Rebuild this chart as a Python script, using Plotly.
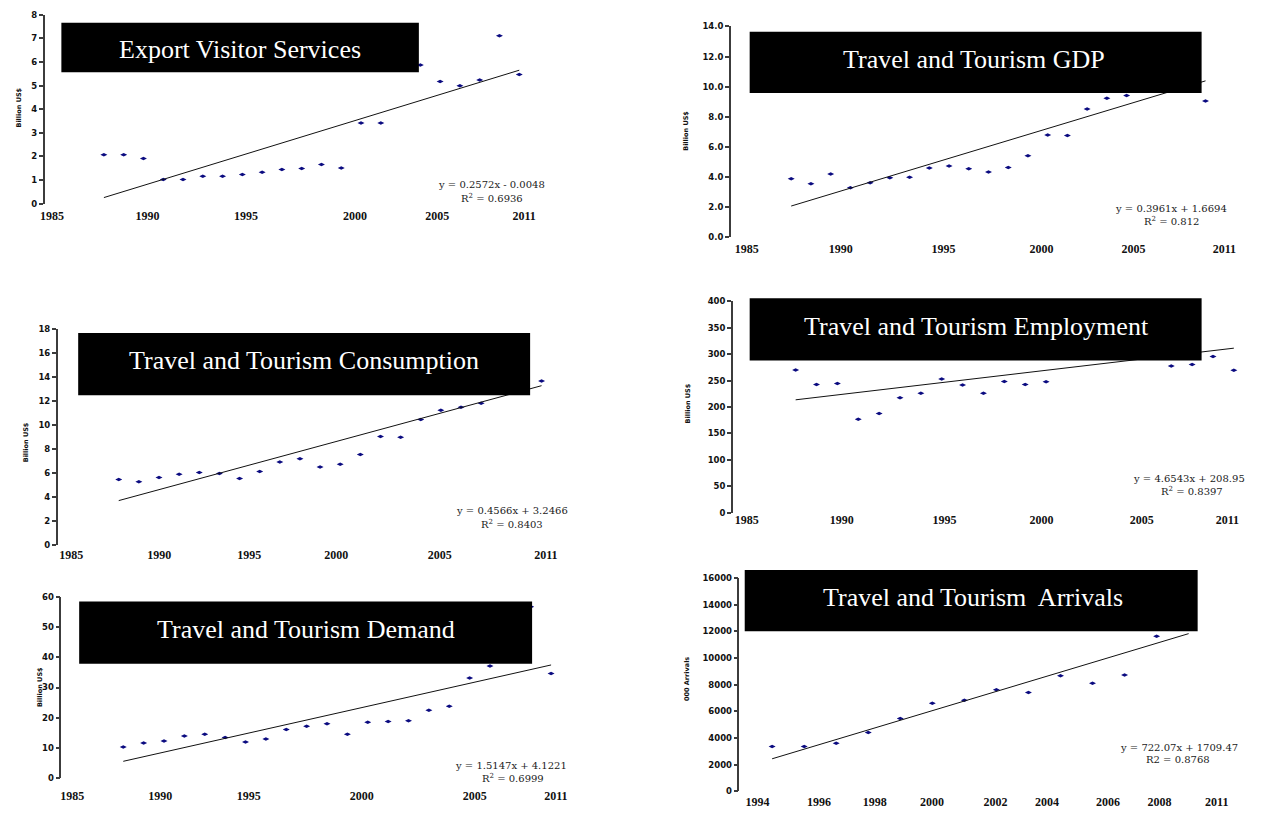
import plotly.graph_objects as go

W, H = 1265, 814

# ---------------- data ----------------
# observation number used as x by the fitted linear trends
obs22 = list(range(1, 23))
obs13 = list(range(1, 14))

export_visitor = [2.07, 2.07, 1.91, 1.02, 1.02, 1.16, 1.16, 1.23, 1.33, 1.44, 1.49,
                  1.66, 1.51, 3.42, 3.42, 6.00, 5.87, 5.17, 4.99, 5.24, 7.12, 5.47]
tt_gdp = [3.87, 3.54, 4.20, 3.28, 3.61, 3.94, 3.98, 4.59, 4.72, 4.55, 4.33,
          4.62, 5.40, 6.78, 6.76, 8.51, 9.23, 9.41, 10.3, 10.9, 11.3, 9.05]
tt_consumption = [5.47, 5.28, 5.64, 5.91, 6.05, 5.96, 5.55, 6.13, 6.92, 7.20, 6.51,
                  6.73, 7.55, 9.06, 9.00, 10.48, 11.24, 11.49, 11.82, 13.0, 13.5, 13.68]
tt_employment = [270, 242.6, 244.5, 176.7, 187.9, 217.7, 225.8, 253.2, 241.4, 225.8, 248.2,
                 242.6, 247.6, 305, 315, 330, 340, 338, 277.4, 280.6, 295.5, 269.4]
tt_demand = [10.4, 11.7, 12.3, 14.0, 14.6, 13.5, 12.0, 13.0, 16.1, 17.2, 18.0,
             14.6, 18.5, 18.8, 19.0, 22.5, 23.8, 33.1, 37.1, 42.4, 56.7, 34.6]
tt_arrivals = [3358, 3358, 3605, 4395, 5457, 6593, 6815, 7605, 7407, 8667, 8099, 8716, 11630]

# linear trend: slope, intercept, R^2
fit_export = (0.2572, -0.0048, 0.6936)
fit_gdp = (0.3961, 1.6694, 0.812)
fit_consumption = (0.4566, 3.2466, 0.8403)
fit_employment = (4.6543, 208.95, 0.8397)
fit_demand = (1.5147, 4.1221, 0.6999)
fit_arrivals = (722.07, 1709.47, 0.8768)

year_ticks = ["1985", "1990", "1995", "2000", "2005", "2011"]
arrival_ticks = ["1994", "1996", "1998", "2000", "2002", "2004", "2006", "2008", "2011"]

titles = ["Export Visitor Services", "Travel and Tourism GDP",
          "Travel and Tourism Consumption", "Travel and Tourism Employment",
          "Travel and Tourism Demand", "Travel and Tourism\u00a0 Arrivals"]
y_titles = ["Billion US$", "Billion US$", "Billion US$", "Billion US$",
            "Billion US$", "000 Arrivals"]

series = [
    (obs22, export_visitor, fit_export, year_ticks, 22),
    (obs22, tt_gdp, fit_gdp, year_ticks, 22),
    (obs22, tt_consumption, fit_consumption, year_ticks, 22),
    (obs22, tt_employment, fit_employment, year_ticks, 22),
    (obs22, tt_demand, fit_demand, year_ticks, 22),
    (obs13, tt_arrivals, fit_arrivals, arrival_ticks, 14),
]

# ---------------- layout of each panel (pixels) ----------------
panels = [
    dict(ax=40, right=555, top=10, bottom=201, p1=100, step=20.0,
         tick_px=[47.5, 144, 243.6, 354, 437, 525], lab_y=214,
         ymax=8, dtick=1, fmt="d",
         box=(57, 18, 418.5, 68), title=(238, 45),
         eq=(492, 182), r2=(492, 195), ytl=(14, 104), r2sup=True),
    dict(ax=734, right=1255, top=21.7, bottom=235, p1=795, step=19.95,
         tick_px=[750, 845, 949, 1048, 1141, 1233], lab_y=247,
         ymax=14, dtick=2, fmt=".1f",
         box=(753, 27, 1210, 89), title=(980, 55),
         eq=(1179, 206), r2=(1180, 219), ytl=(689, 127), r2sup=True),
    dict(ax=53.3, right=560, top=328.3, bottom=546.7, p1=115, step=20.36,
         tick_px=[67, 156, 247, 335, 439.5, 547], lab_y=557,
         ymax=18, dtick=2, fmt="d",
         box=(74, 332, 531, 395), title=(302, 360),
         eq=(513, 512), r2=(513, 525), ytl=(21, 443), r2sup=True),
    dict(ax=736, right=1255, top=300, bottom=514, p1=799.5, step=21.1,
         tick_px=[750, 846, 950, 1048, 1149.5, 1236], lab_y=521,
         ymax=400, dtick=50, fmt="d",
         box=(753, 297, 1210, 360), title=(982, 325),
         eq=(1197, 479), r2=(1200, 492), ytl=(691, 403), r2sup=True),
    dict(ax=57, right=560, top=599, bottom=783, p1=119.6, step=20.6,
         tick_px=[68, 157, 246.4, 360.7, 475, 557], lab_y=801,
         ymax=60, dtick=10, fmt="d",
         box=(75, 604, 533, 667), title=(304, 632),
         eq=(512, 770), r2=(514, 783), ytl=(35, 691), r2sup=True),
    dict(ax=742.7, right=1255, top=580, bottom=796, p1=775.7, step=32.4,
         tick_px=[761, 823, 879.5, 937.3, 1001.5, 1053.7, 1115.3, 1167.5, 1225.3], lab_y=807,
         ymax=16000, dtick=2000, fmt="d",
         box=(748, 572, 1206, 634), title=(979, 600),
         eq=(1187, 752), r2=(1186, 764), ytl=(689, 682), r2sup=False),
]

AXIS_COLOR = "#3c3c3c"
POINT_COLOR = "#0b0b80"


def px_x(v):
    return v / W


def px_y(v):
    return 1 - v / H


def num(v):
    return f"{v:g}"


fig = go.Figure()
shapes, annotations = [], []

for k, ((xs, ys, fit, ticks, x_end), g, title, ytitle) in enumerate(
        zip(series, panels, titles, y_titles), start=1):
    xa = "x" if k == 1 else f"x{k}"
    ya = "y" if k == 1 else f"y{k}"
    slope, icpt, r2 = fit

    fig.add_trace(go.Scatter(
        x=xs, y=ys, mode="markers", xaxis=xa, yaxis=ya, showlegend=False,
        marker=dict(symbol="diamond-wide", size=5, color=POINT_COLOR,
                    line=dict(width=0)),
        hoverinfo="skip"))
    tx = [xs[0], x_end]
    fig.add_trace(go.Scatter(
        x=tx, y=[slope * t + icpt for t in tx], mode="lines",
        xaxis=xa, yaxis=ya, showlegend=False,
        line=dict(color="#111111", width=1), hoverinfo="skip"))

    to_idx = lambda p: 1 + (p - g["p1"]) / g["step"]
    xr = [to_idx(g["ax"]), to_idx(g["right"])]
    label_offset = 9
    fig.layout[f"xaxis{'' if k == 1 else k}"] = dict(
        domain=[px_x(g["ax"]), px_x(g["right"])], range=xr,
        anchor="free", position=px_y(g["lab_y"] - label_offset),
        tickmode="array", tickvals=[to_idx(p) for p in g["tick_px"]], ticktext=ticks,
        showline=False, showgrid=False, zeroline=False, ticks="",
        tickfont=dict(family="Liberation Serif", size=12, color="#111111", weight="bold"),
        fixedrange=True)
    fig.layout[f"yaxis{'' if k == 1 else k}"] = dict(
        domain=[px_y(g["bottom"]), px_y(g["top"])], range=[0, g["ymax"]],
        anchor=xa, tick0=0, dtick=g["dtick"], tickformat=g["fmt"],
        showline=True, linecolor=AXIS_COLOR, linewidth=1.5,
        ticks="outside", ticklen=4, tickwidth=1.5, tickcolor=AXIS_COLOR,
        showgrid=False, zeroline=False,
        tickfont=dict(family="DejaVu Sans", size=8.5, color="#111111", weight="bold"),
        fixedrange=True)

    # black title plate
    x0, y0, x1, y1 = g["box"]
    shapes.append(dict(type="rect", xref="paper", yref="paper", layer="above",
                       x0=px_x(x0), x1=px_x(x1), y0=px_y(y1), y1=px_y(y0),
                       fillcolor="black", line=dict(width=0)))
    annotations.append(dict(
        text=title, xref="paper", yref="paper", x=px_x(g["title"][0]), y=px_y(g["title"][1]),
        xanchor="center", yanchor="middle", showarrow=False,
        font=dict(family="Liberation Serif", size=26, color="white")))

    # trend equation and R^2
    sign = "+" if icpt >= 0 else "-"
    eq_text = f"y = {num(slope)}x {sign} {num(abs(icpt))}"
    r2_text = (f"R<sup>2</sup> = {num(r2)}" if g["r2sup"] else f"R2 = {num(r2)}")
    for txt, (ex, ey) in ((eq_text, g["eq"]), (r2_text, g["r2"])):
        annotations.append(dict(
            text=txt, xref="paper", yref="paper", x=px_x(ex), y=px_y(ey),
            xanchor="center", yanchor="middle", showarrow=False,
            font=dict(family="DejaVu Serif", size=10, color="#1a1a1a")))

    # rotated axis title
    annotations.append(dict(
        text=ytitle, xref="paper", yref="paper",
        x=px_x(g["ytl"][0]), y=px_y(g["ytl"][1]), textangle=-90,
        xanchor="center", yanchor="middle", showarrow=False,
        font=dict(family="DejaVu Sans", size=6.5, color="#111111", weight="bold")))

fig.update_layout(
    width=W, height=H, margin=dict(l=0, r=0, t=0, b=0),
    paper_bgcolor="white", plot_bgcolor="white",
    shapes=shapes, annotations=annotations, showlegend=False)

fig.write_html("out.html", config={"displayModeBar": False})
